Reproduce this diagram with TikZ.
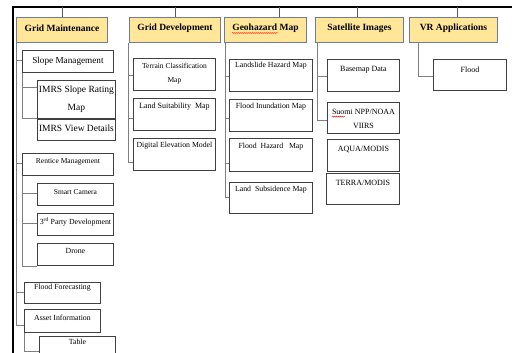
\documentclass[tikz,border=0pt]{standalone}
\usepackage{fontspec}
\setmainfont{Liberation Serif}
\usetikzlibrary{calc,decorations.pathmorphing}
\definecolor{hdrfill}{HTML}{FFE699}
\definecolor{hdrline}{HTML}{6F7C96}
\definecolor{boxline}{HTML}{404040}
\definecolor{connline}{HTML}{7F7F7F}
\newcommand\fs[2]{\fontsize{#1}{#2}\selectfont}
\tikzset{
 hdr/.style={draw=hdrline, fill=hdrfill, line width=1pt, inner sep=0pt, anchor=north west},
 hdrtext/.style={font=\fs{9.5}{11}\bfseries, text=black, inner sep=0pt},
 cbox/.style={draw=boxline, line width=0.9pt, fill=white, inner sep=0pt, anchor=north west},
 ctext/.style={inner sep=0pt, align=center, text=black},
 conn/.style={draw=connline, line width=0.9pt},
 frameline/.style={draw=black, line width=1.4pt},
 stubline/.style={draw=black!65, line width=0.9pt},
 spell/.style={draw=red, line width=0.4pt, decorate, decoration={snake, amplitude=0.5pt, segment length=2pt}}
}
\newcommand\hbx[6]{%
 \node[hdr, minimum width={#4-#2}, minimum height={#5-#3}] (#1) at (#2,#3) {};
 \node[hdrtext] (#1t) at ($(#1.center)+(0,-2)$) {#6};}
\newcommand\cbx[8]{%
 \node[cbox, minimum width={#4-#2}, minimum height={#5-#3}] (#1) at (#2,#3) {};
 \node[ctext, font={#7}] (#1t) at ($(#1.north)+(0,{#6-#3})$) {#8};}
\begin{document}
\begin{tikzpicture}[x=1pt,y=-1pt]
\useasboundingbox (0,0) rectangle (512,353);
\fill[white] (0,0) rectangle (512,353);
\clip (0,0) rectangle (512,353);
% headers
\hbx{gm}{16}{17}{107}{42}{Grid Maintenance}
\hbx{gd}{129}{17}{220}{42}{Grid Development}
\hbx{gh}{224}{17}{306}{42}{Geohazard Map}
\hbx{si}{315}{17}{403}{42}{Satellite Images}
\hbx{vr}{409}{17}{497}{42}{VR Applications}
% grid maintenance
\cbx{sm}{22}{50}{113}{72}{61}{\fs{9.2}{11}}{Slope Management}
\cbx{isr}{37}{80}{115}{118}{99}{\fs{9.5}{18}}{IMRS Slope Rating\\Map}
\cbx{ivd}{37}{119}{115}{140}{128.5}{\fs{9.5}{11}}{IMRS View Details}
\cbx{rm}{22}{153}{113}{175}{162}{\fs{7.5}{9}}{Rentice Management}
\cbx{sc}{37}{183}{113}{205}{192}{\fs{7.5}{9}}{Smart Camera}
\cbx{tp}{37}{213}{113}{235}{222}{\fs{7.8}{9}}{3\textsuperscript{rd} Party Development}
\cbx{dr}{37}{243}{113}{265}{251}{\fs{7.8}{9}}{Drone}
\cbx{ff}{24}{282}{100}{303}{288}{\fs{7.8}{9}}{Flood Forecasting}
\cbx{ai}{24}{309}{100}{332}{318}{\fs{7.8}{9}}{Asset Information}
\cbx{tb}{39}{336}{115}{372}{342}{\fs{7.8}{9}}{Table}
% grid development
\cbx{tc}{133}{58}{215}{90}{74}{\fs{7.5}{14}}{Terrain Classification\\Map}
\cbx{ls}{133}{98}{215}{130}{107}{\fs{8}{9}}{Land Suitability\ \ Map}
\cbx{de}{133}{138}{215}{170}{146}{\fs{7.8}{9}}{Digital Elevation Model}
% geohazard
\cbx{lh}{229}{59}{312}{91}{66}{\fs{7.8}{9}}{Landslide Hazard Map}
\cbx{fi}{229}{99}{312}{131}{107}{\fs{7.8}{9}}{Flood Inundation Map}
\cbx{fh}{229}{138}{312}{171}{147}{\fs{7.8}{9}}{Flood\ \ Hazard\ \ \ Map}
\cbx{lsb}{229}{182}{312}{213}{190}{\fs{7.8}{9}}{Land\ \ Subsidence Map}
% satellite
\cbx{bd}{327}{59}{399}{91}{70}{\fs{8}{9}}{Basemap Data}
\cbx{su}{327}{102}{399}{133}{119}{\fs{8}{14}}{Suomi NPP/NOAA\\VIIRS}
\cbx{aq}{327}{139}{399}{171}{149}{\fs{8}{9}}{AQUA/MODIS}
\cbx{te}{326}{173}{399}{204}{183}{\fs{8}{9}}{TERRA/MODIS}
% VR
\cbx{fl}{433}{59}{506}{90}{70}{\fs{8}{9}}{Flood}
% frame and stubs
\coordinate (tl) at (13,7);
\draw[frameline] (13,354) -- (tl) -- (513,7);
\draw[stubline] (gm.north) -- (gm.north |- tl);
\draw[stubline] (gd.north) -- (gd.north |- tl);
\draw[stubline] ([xshift=14pt]gh.north) -- ([xshift=14pt]gh.north |- tl);
\draw[stubline] ([xshift=-2pt]si.north) -- ([xshift=-2pt]si.north |- tl);
\draw[stubline] ([xshift=4pt]vr.north) -- ([xshift=4pt]vr.north |- tl);
% connectors: grid maintenance
\draw[conn] (gm.south west) |- ([yshift=-10pt]sm.north west);
\draw[conn] (gm.south west) |- ([yshift=-10pt]rm.north west);
\draw[conn] (gm.south west) |- ([yshift=-10pt]ff.north west);
\draw[conn] (gm.south west) |- ([yshift=-16pt]ai.north west);
\draw[conn] (sm.south west) |- ([yshift=-7pt]isr.north west);
\draw[conn] (sm.south west) |- ([yshift=1pt]ivd.north west);
\draw[conn] (rm.south west) |- ([yshift=-10pt]sc.north west);
\draw[conn] (rm.south west) |- ([yshift=-10pt]tp.north west);
\draw[conn] (rm.south west) |- ([yshift=-1pt]dr.south west);
\draw[conn] (ai.south west) |- ([yshift=-15pt]tb.north west);
% grid development
\draw[conn] ([xshift=-1pt]gd.south west) |- ([yshift=-17pt]tc.north west);
\draw[conn] ([xshift=-1pt]gd.south west) |- ([yshift=-20pt]ls.north west);
\draw[conn] ([xshift=-1pt]gd.south west) |- ([yshift=-24pt]de.north west);
% geohazard
\draw[conn] ([xshift=1pt]gh.south west) |- ([yshift=-17pt]lh.north west);
\draw[conn] ([xshift=1pt]gh.south west) |- ([yshift=-19pt]fi.north west);
\draw[conn] ([xshift=1pt]gh.south west) |- ([yshift=-25pt]fh.north west);
\draw[conn] ([xshift=1pt]gh.south west) |- ([yshift=-15pt]lsb.north west);
% satellite
\draw[conn] ([xshift=2pt]si.south west) |- ([yshift=-17pt]bd.north west);
\draw[conn] ([xshift=2pt]si.south west) |- ([yshift=-18pt]su.north west);
% VR
\draw[conn] ([xshift=9pt]vr.south west) |- ([yshift=-17pt]fl.north west);
% spell-check underlines
\draw[spell] ([yshift=-0.5pt]ght.south west) -- ++(46,0);
\draw[spell] ($(sut.north west)+(0,7.5)$) -- ++(13,0);
\end{tikzpicture}
\end{document}
